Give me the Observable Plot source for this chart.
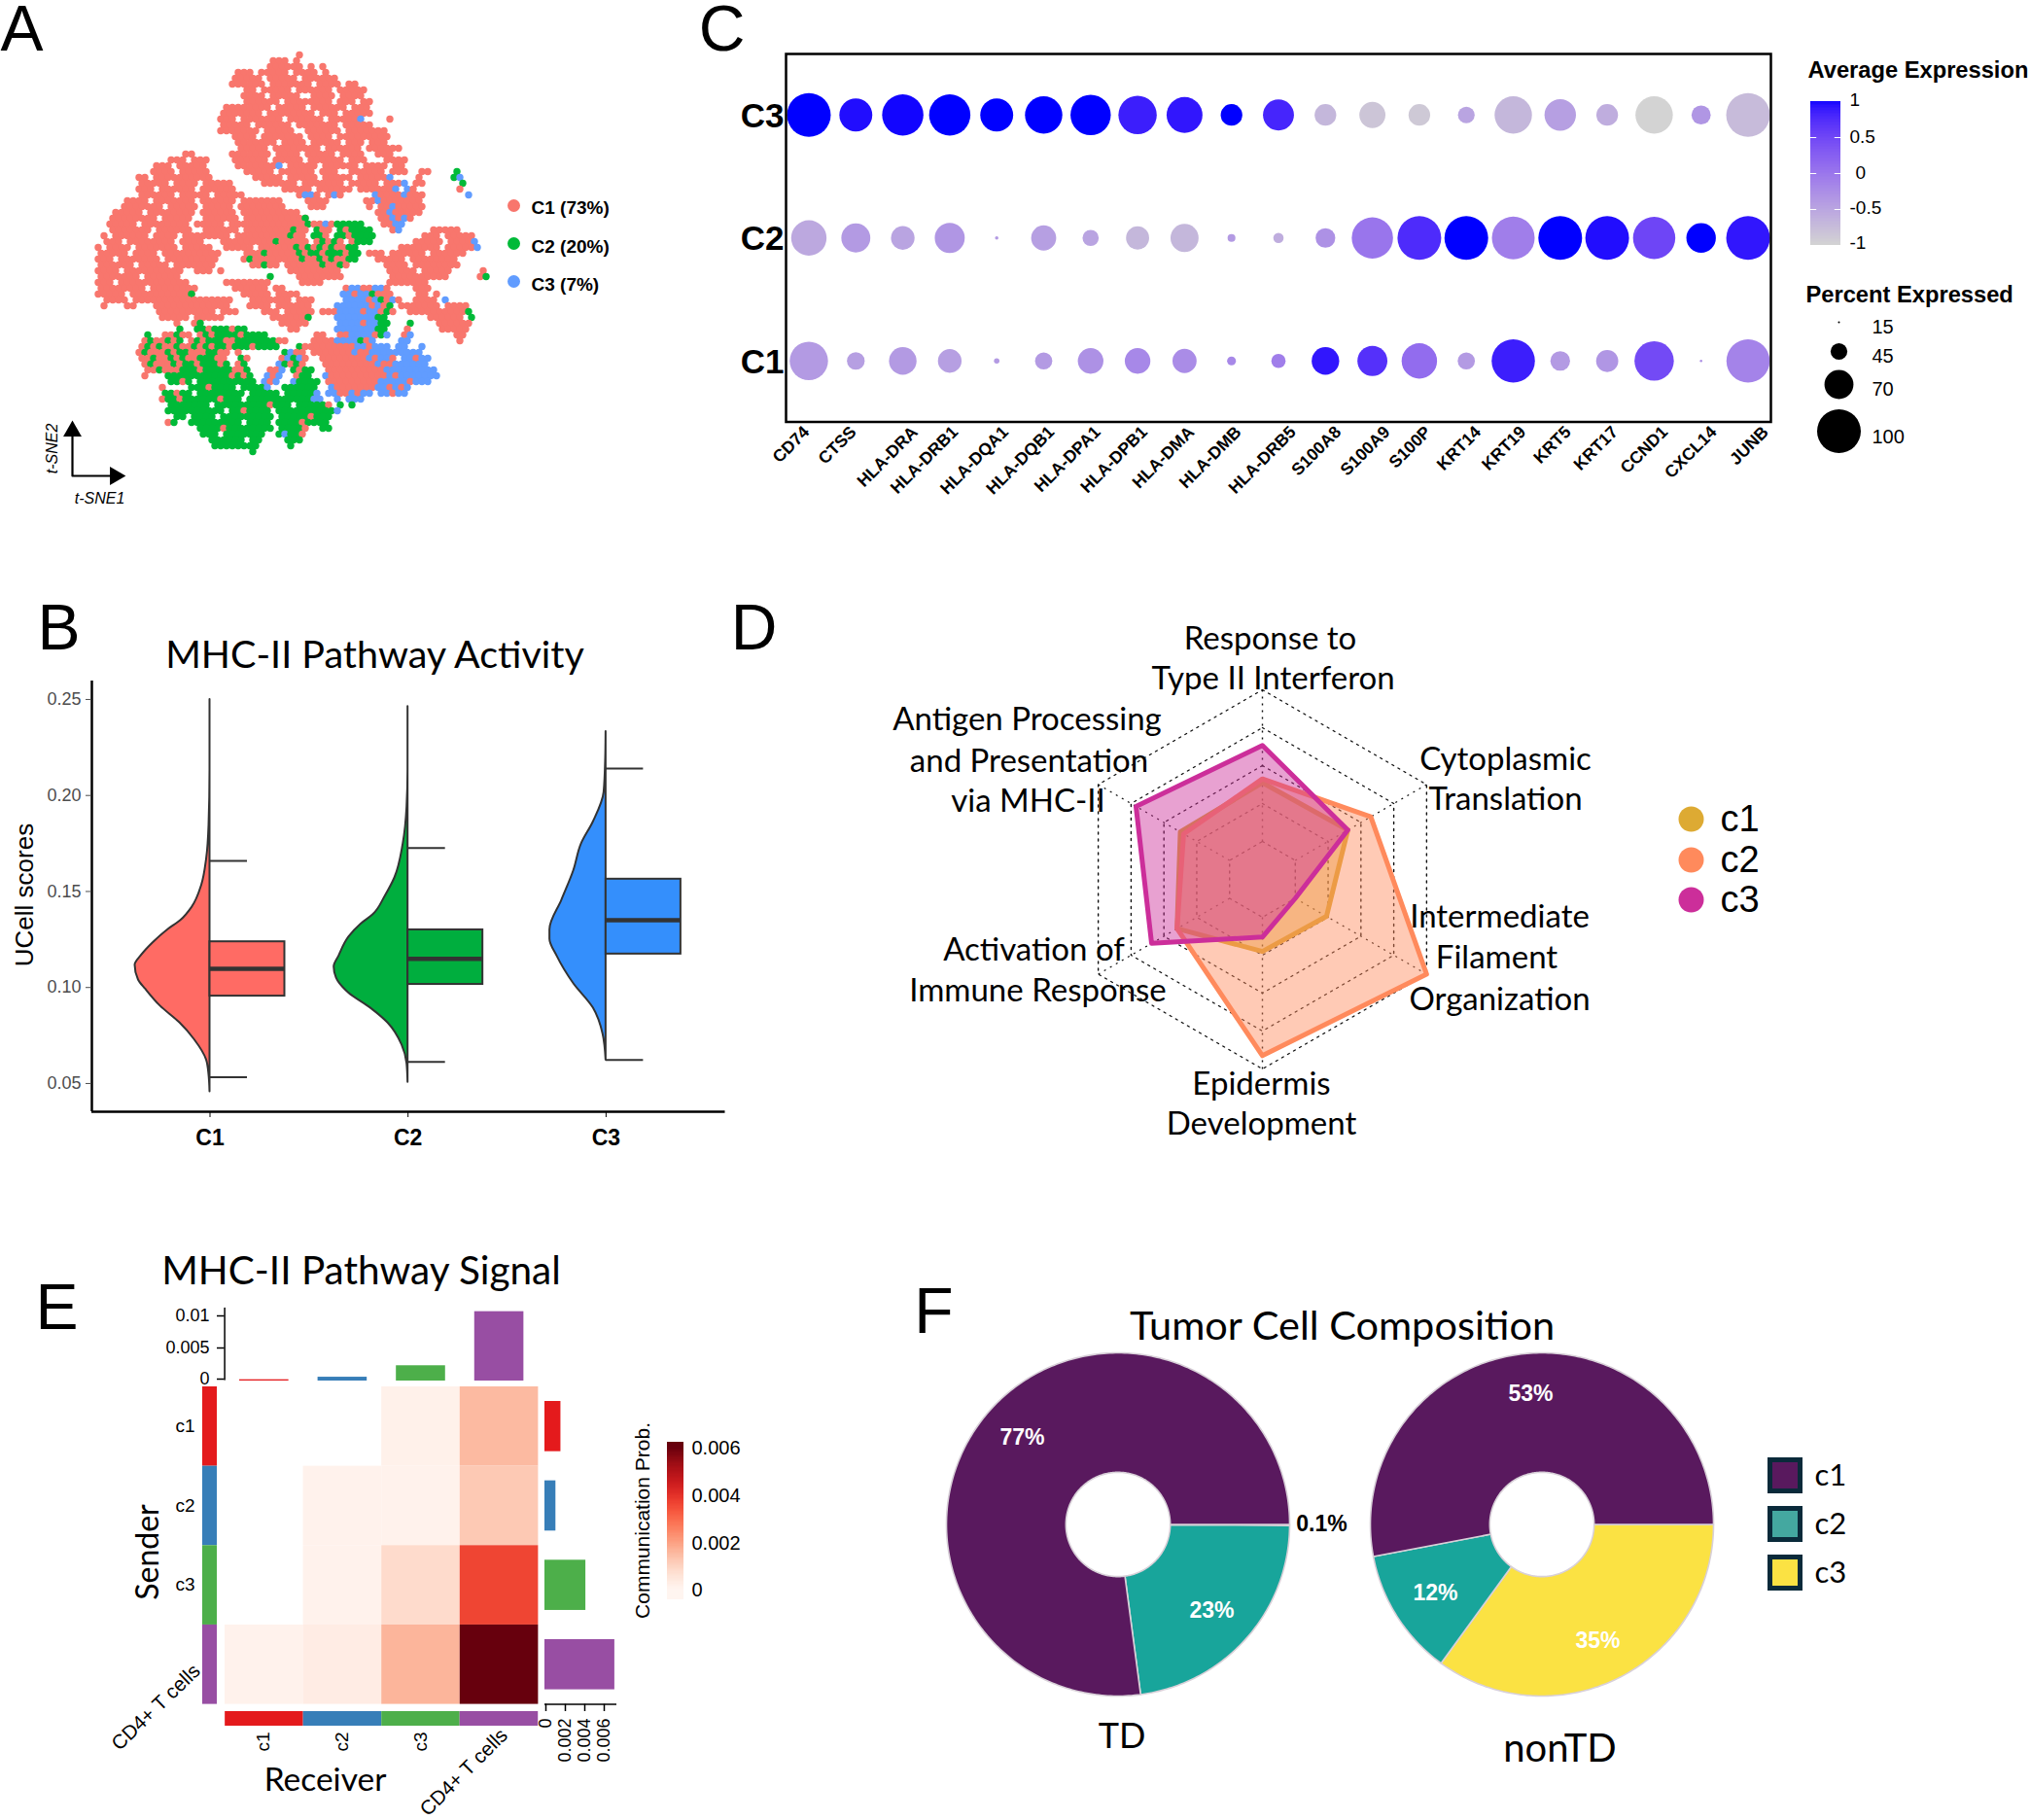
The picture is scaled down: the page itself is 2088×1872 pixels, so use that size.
<!DOCTYPE html>
<html><head><meta charset="utf-8">
<style>html,body{margin:0;padding:0;background:#fff}#page{position:relative;width:2088px;height:1872px;overflow:hidden}svg{max-width:none!important}</style>
<script src="https://cdn.jsdelivr.net/npm/d3@7"></script>
<script src="https://cdn.jsdelivr.net/npm/@observablehq/plot@0.6"></script>
</head><body><div id="page"></div>
<script>
// ---------- DATA ----------
// Panel A: t-SNE cloud. Each row: "column:cluster letters"; r=C1 g=C2 b=C3, "." = gap
const tsneRows = [
"","36:r","32:rrr.r","31:rrrrrr 38:r 40:r","26:rrr.rrrrr.rrrr 41:r","25:rrrrr.rrrrr.rrrrrr","25:rrrrrr.rrrrrrr.rrrr 45:rr",
"27:rr.rrrrr.rrrrrr.rrrrr","27:rrrr.rrrrr..rrrr.rrrr","27:rrrrrr.rrrrrrrr.rrr.rr","24:rrrrrrrr.rrrrr.rrrrrr.rrr",
"23:rrrrrrr.rrrrrrrr.rrr.rrrrr","23:rrr.rrrrrrr.rrrrrr.rrrrrb 52:r","23:rrrrr.rrrrrr.rrrrrrr.rrrrr","23:rrrrrrr.rrrrr..rrrrrr.rrrrrrr",
"25:rrrr.rrrrrrr.rrrr.rrrrrrrrr","26:rrrrrrr.rrrr.rrrrr.rrr.rrr","26:rrrrr.rrrrrrrr.rrrrrr.rrrrrr","17:rr 25:rrrrrrr.rrrr.rrrrr.rrrr..rrr",
"14:rrr 18:rrr 25:rrrrrr.rrrrr.rrrrrr.rrr...rrrr","12:rrr.rrrrr 26:rrrrrrrb.rrrrr.rrrrrr.rrrr.rr","11:rrrr.rrrrr 27:rrrrr.rrrrrr.rrr..rrrrrr.rrr 57:rr 63:g",
"9:rr.rrrrrrrrrr 29:rrrrr.rrrrr.rrrrr.rrrrrb 57:r 63:gb","9:rrrrr.rrrr.rrrrr 30:rrrrrr.rrrrrrr.rrrrr.rrrb 56:rr 64:g","9:rrr.rrrrrr.rrrrrr 34:rrrrr.rrrrrr.rrrrrrb 55:br 64:r",
"9:rrrrrr.rrrrr.rrrrr 36:rbbr 41:rbr 49:brrrrbrrr 65:b","7:rrrr.rrrrrrr.rrrrrr.rrrrrrr 38:rrrr 48:rrbrrrrrrr","6:rrrrrrr.rrrrr.rrrrr.rrrrrrrr 38:rrr 48:r.rrbrrrrr",
"5:rrrrr.rrrrrrrr.rrrrrr.rrrrrrrrrr 50:rrbrrrrr","4:rrrrrrrr.rrrrr..rrrrrr.rrrrrrrrrrr 37:g 50:rrbrbr","4:rrrrr.rrrrrrrr.rrrrr.rrrrrrrrrrrrrg 39:rrbrggggg 51:rrbb",
"4:rrrrrrr.rrrrrr..rrrrrr.rrrrrrrrgrr 39:grr.grgggg 52:rb 59:rrrrr","3:r.rrrrrr.rrrr.rrrrrrrr.rrrrrrrrrgrr 39:ggr.ggrgggg 58:rrr.rrrrr","3:rrr.rrrrrrrr.rrrr...rrrrrrrrrgrrrrr 39:rgrgr.rggg 56:rrrrr.rrrrb",
"2:r.rrrr.rrrrrrr.rrrrr..rrrrr.rrrrrrgrg 39:rgrgrrgg 54:rrrrrrr.rrrrrb","2:rrrrr.rrrr.rrrrrrr 19:rrrr 27:rrrgrrrr 35:rgrggrgggrgg 48:rrr 52:rrrrrr.rrrrrr",
"2:rrr.rrrrrrr.rrrrr 18:rrrrr 27:rgrrrrrr 35:rrgrrgrgrrgg 50:rrrrr.rrrrrrrr","2:rrrrrr.rrrrr.rrrr 18:rrrr 28:rrgrr 34:rrrrrrgrrgr 51:rrrr.rrrrrrrr","2:rrrr.rrrrrrrrrr 19:rrr 23:r 35:rrrrrrrrr 52:rrrrr.rrrrr 68:r",
"2:rrrrrrr.rrrrrr 31:g 36:rrrrrrrr 52:rrrrrrrrrr 67:rg","2:rrr.rrrrrrrrrrrr 24:rrrrrrrr 37:rrrr 52:rrrrrrr","2:rrrrrrrr.rrrrrrrr 25:rrrrrr.rr 44:rbbrrbbr 56:rrr",
"2:rrrrr.rrrrrrrrrrr 18:g 27:rrrrr.rrrr 44:bbrbbgrrr 57:rr 60:r","3:rrrr.rrrrrrrrrrr 19:rrrrrr 28:rrrrrrr.rrr 44:bbbbrbgrb 53:r 56:rrrr 61:b","3:r 7:rr 12:rrrrrrr 19:rrrrrr 28:rrrr.rrrrrr 43:bbbbbbrbrg 54:rrrrrrr.rrrr",
"12:rrrrrrrrrr.rrr 30:rrr.rrrrr 40:rr 42:rbbbbrbbrgr 55:rrrr 59:rrrrrrg","13:rrrr 17:r 19:rrrrr 32:rrrrrrg 43:bbbbbbbgg. 59:rrrrrr.g","15:r 18:r 19:g 33:rrrrr 43:bbbbrbbgg 55:g 60:rrrrrr",
"16:g 19:ggrgggrgg 35:rr 43:bbbbbbbgg 55:r 61:rrrrr","10:g 13:rrgrr 19:rgrggggrgggg 39:rr 43:rrbbbbrgb 54:rb 63:rr","10:rgrrgrg 18:rgrgggrrggggggg 33:r 34:r 39:rrrrbbbbgrb 54:bb 64:r",
"9:rgrgrrgrrgrgrggrgggrgggg 36:grrrrrrrrrbbrbbb 53:bb 57:b","9:rgrrrgrggrrrggrr 26:r 34:gbrr 39:rrrrrrrbrrbbbbb 54:bbbb","9:rrgrrgrgrrgggrr 26:gr 33:rbgbr 40:rrrrrrrrbrbbr 54:bbrbb",
"10:rgrrrgr 16:rggrgggrg 26:rg 33:bgrgr 41:rrrrrrrrrbrr 53:bbbbbb","10:rrg 13:rrrgggrgggggrrg 31:rrb 35:grgg 41:rrrrrrrrrrbr 52:bbbbbbbb","10:r 14:gggggggggggrgrg 31:brb 36:rgg 41:brrrrrrrrrrbrbbbbbbb",
"14:ggrg 19:gggggggggg 30:brb 35:bgggg 41:rrrrrrrrr 50:bbbbbrbbb","13:r 18:g 19:ggrgggg.gggg 31:b 34:gggggg 42:brrrrrrr 50:bbrbrb","13:ggrgg 19:gggggggg.ggggg 34:gggggb 41:bbr 44:rbrbb 50:bbrbb",
"13:rggrg 18:g 19:ggggrggg.ggggg 33:ggggggbb 43:b 45:bbb","14:ggggg 19:gg.gggggggggrg 33:gg.gggggr 43:g 45:g","14:gggg 18:gggggg.ggrgggg 33:ggggggggggb",
"15:gg 18:gggg.ggggggggg 33:gggggrggg","14:rg 18:ggggggggg.gggg 33:ggggrgggg","19:ggggrgggggggg 33:ggggr 40:gg","20:ggg.ggggggg 33:gbggr","21:gggggg.gg 34:ggg","22:gggggggg 35:g","28:g"];
const tsneClusters = {r:"C1", g:"C2", b:"C3"};
const tsneColors = ["#F8766D","#00BA38","#619CFF"];

// Panel B
const clusterNames = ["C1","C2","C3"];
const clusterColors = ["#FF6B64","#00AE3E","#348FFC"];
const violinC1 = [[.25,0],[.2134,0],[.1843,.013],[.1669,.045],[.1533,.11],[.1417,.24],[.1349,.39],[.13,.565],[.1233,.76],[.1165,.92],[.1116,1],[.1039,.955],[.099,.857],[.0903,.662],[.0816,.403],[.0729,.208],[.0622,.045],[.0545,.013],[.0457,0]];
const violinC2 = [[.2463,0],[.2134,0],[.194,.013],[.1746,.065],[.1572,.175],[.1475,.305],[.1378,.468],[.1329,.63],[.1262,.79],[.1165,.92],[.1107,.987],[.1048,.955],[.0971,.79],[.0893,.5],[.0816,.27],[.07,.08],[.0603,.013],[.0506,0]];
const violinC3 = [[.2333,0],[.2192,.005],[.2017,.026],[.1862,.17],[.1746,.33],[.161,.43],[.1455,.59],[.13,.75],[.1252,.75],[.1165,.656],[.1019,.43],[.0893,.17],[.0757,.04],[.0622,0]];
const boxLow = [.0533,.0612,.0622];
const boxQ1 = [.0955,.1016,.1174];
const boxMedian = [.1097,.1149,.1351];
const boxQ3 = [.1238,.13,.1564];
const boxHigh = [.1659,.1727,.214];

// Panel C
const genes = ["CD74","CTSS","HLA-DRA","HLA-DRB1","HLA-DQA1","HLA-DQB1","HLA-DPA1","HLA-DPB1","HLA-DMA","HLA-DMB","HLA-DRB5","S100A8","S100A9","S100P","KRT14","KRT19","KRT5","KRT17","CCND1","CXCL14","JUNB"];
const pctC3 = [100,78,95,95,78,87,93,89,84,55,74,55,64,55,45,87,75,55,87,50,100];
const pctC2 = [83,70,59,72,18,62,44,58,68,27,32,51,95,100,100,98,100,100,97,71,100];
const pctC1 = [89,47,67,59,22,46,63,63,60,29,40,67,72,83,46,99,51,56,91,16,99];
const avgC3 = [1,.95,.98,1,1,1,1,.85,.9,1,.8,-.7,-.85,-.9,-.5,-.7,-.45,-.6,-1,-.35,-.75];
const avgC2 = [-.55,-.4,-.5,-.35,-.4,-.45,-.5,-.7,-.7,-.4,-.6,-.3,0,.75,1,-.1,1,.95,.5,1,.9];
const avgC1 = [-.4,-.45,-.4,-.45,-.4,-.4,-.3,-.2,-.25,-.2,-.1,.9,.7,.1,-.4,.85,-.4,-.35,.45,-.3,-.15];
const avgTicks = [-1,-.5,0,.5,1];

// Panel D
const radarSeries = ["c1","c2","c3"];
const radarColors = ["#DDAA33","#FF8A5C","#CC2E9A"];
const radarC1 = [.51,.52,.39,.38,.52,.50];
const radarC2 = [.53,.66,1,.93,.52,.48];
const radarC3 = [.706,.52,.2,.304,.675,.77];
const radarLevels = [.2,.4,.6,.8,1];

// Panel E
const cellGroups = ["c1","c2","c3","CD4+ T cells"];
const cellColors = ["#E41A1C","#377EB8","#4DAF4A","#984EA3"];
const heatC1 = [0,0,.00015,.0015];
const heatC2 = [0,.0001,.0001,.0012];
const heatC3 = [0,.0001,.0008,.0036];
const heatCD4 = [.0001,.0003,.0016,.006];
const receiverTotals = [.0002,.0006,.0024,.0109];
const senderTotals = [.0016,.0011,.0041,.007];

// Panel F
const sliceOrder = ["c3","c2","c1"];
const sliceColors = ["#FBE243","#18A59B","#59195E"];
const shareTD = [.1,22.8,77.1];
const shareNonTD = [35,12,53];

// ---------- HELPERS ----------
const page = document.getElementById("page");
const arial = "Liberation Sans";
const soft = "Lato";
function mount(options, left, top) {
  const svg = Plot.plot({margin:0, style:{background:"none", overflow:"visible"}, ...options});
  svg.style.position = "absolute"; svg.style.left = left+"px"; svg.style.top = top+"px";
  page.append(svg);
}
const rScale = {type:"linear", domain:[11,100], range:[0,22.5]};
const dotColor = {type:"linear", domain:[-1,1], range:["lightgrey","blue"], interpolate:"lab"};

// ---------- A ----------
const tsne = [];
tsneRows.forEach((row,r) => row.split(" ").filter(Boolean).forEach(seg => {
  const [col,letters] = seg.split(":");
  [...letters].forEach((ch,i) => { if (ch!==".") tsne.push({x:+col+i+(r%2?.25:-.25), y:r, cluster:tsneClusters[ch]}); });
}));
mount({width:460,height:460,marginLeft:20,marginRight:20,marginTop:20,marginBottom:20,
  x:{domain:[0,70],axis:null}, y:{domain:[0,70],reverse:true,axis:null},
  color:{domain:clusterNames,range:tsneColors},
  marks:[Plot.dot(tsne,{x:"x",y:"y",fill:"cluster",r:3.7})]}, 70, 30);

// ---------- B ----------
const violins = [violinC1,violinC2,violinC3].flatMap((v,i)=>v.map(([value,w])=>({group:clusterNames[i],pos:i+1,value,w})));
const violinWidth=.378;
const boxes = clusterNames.map((group,i)=>({group,pos:i+1,low:boxLow[i],q1:boxQ1[i],median:boxMedian[i],q3:boxQ3[i],high:boxHigh[i]}));
const xMin=.4035, xMax=3.602, yMin=.0353, yMax=.2596;
mount({width:731.5,height:493,marginLeft:80,marginBottom:50,
  x:{domain:[xMin,xMax]}, y:{domain:[yMin,yMax]},
  color:{domain:clusterNames,range:clusterColors},
  marks:[
    Plot.areaX(violins,{y:"value",x1:"pos",x2:d=>d.pos-d.w*violinWidth,z:"group",fill:"group",stroke:"#333",strokeWidth:2,curve:"monotone-y"}),
    Plot.ruleY(boxes,{y:"low",x1:"pos",x2:d=>d.pos+violinWidth/2,stroke:"#333",strokeWidth:2}),
    Plot.ruleY(boxes,{y:"high",x1:"pos",x2:d=>d.pos+violinWidth/2,stroke:"#333",strokeWidth:2}),
    Plot.rect(boxes,{x1:"pos",x2:d=>d.pos+violinWidth,y1:"q1",y2:"q3",fill:"group",stroke:"#333",strokeWidth:2}),
    Plot.ruleY(boxes,{y:"median",x1:"pos",x2:d=>d.pos+violinWidth,stroke:"#333",strokeWidth:4.5}),
    Plot.ruleX([xMin],{stroke:"black",strokeWidth:2.5}),
    Plot.ruleY([yMin],{stroke:"black",strokeWidth:2.5}),
    Plot.axisY({ticks:[.05,.1,.15,.2,.25],tickFormat:".2f",tickSize:6,tickPadding:5,fontSize:18,fontFamily:arial,color:"#4d4d4d",label:null}),
    Plot.axisX({ticks:[1,2,3],tickFormat:i=>clusterNames[i-1],tickSize:6,tickPadding:12,fontSize:23,fontWeight:"bold",fontFamily:arial,label:null})
  ]}, 13.5, 700);

// ---------- C ----------
const dots = [["C3",pctC3,avgC3],["C2",pctC2,avgC2],["C1",pctC1,avgC1]].flatMap(([row,p,a])=>genes.map((gene,i)=>({row,gene,pct:p[i],avg:a[i]})));
// where each gene label's end sits, relative to its column
const geneLabelShift = [3.5,3.5,18.5,11.5,15,14,13,13,13,13,21,19,21,15,18,16,14,14,17,19,24];
mount({width:1073,height:488.5,marginLeft:60,marginBottom:110,
  x:{type:"point",domain:genes,padding:.486,round:false,axis:null}, y:{type:"point",domain:["C3","C2","C1"],padding:.496,round:false},
  r:rScale, color:dotColor,
  marks:[
    Plot.dot(dots,{x:"gene",y:"row",r:"pct",fill:"avg"}),
    Plot.frame({stroke:"black",strokeWidth:2.5}),
    Plot.axisY({tickSize:0,tickPadding:2,fontSize:35,fontWeight:"bold",fontFamily:arial,label:null,dy:1.5})
  ]}, 748, 54.5);
// Colour bar of C
mount({width:31,height:148,x:{domain:[0,1],axis:null},y:{domain:[-1,1],axis:null},color:dotColor,
  marks:[
    Plot.rect(d3.range(-1,1,.02),{y1:d=>d,y2:d=>Math.min(1,d+.04),fill:d=>d,shapeRendering:"crispEdges"}),
    Plot.ruleY(avgTicks.slice(1,4),{x1:0,x2:.2,stroke:"white"}),
    Plot.ruleY(avgTicks.slice(1,4),{x1:.8,x2:1,stroke:"white"})
  ]},1862,104);

// ---------- D ----------
const angle = i => i*Math.PI/3;
const radarAt = (s,vals)=>vals.map((v,i)=>({s,x:v*Math.sin(angle(i)),y:v*Math.cos(angle(i))}));
const radarPolys = [radarC1,radarC2,radarC3].flatMap((v,i)=>radarAt(radarSeries[i],v));
const ringPts = radarLevels.flatMap(l=>radarAt(l,Array(6).fill(l)));
const innerPts = radarAt(0,Array(6).fill(radarLevels[0])), outerPts = radarAt(0,Array(6).fill(1));
const spokes = innerPts.map((a,i)=>({a,b:outerPts[i]}));
mount({width:468,height:468,x:{domain:[-1.2,1.2],axis:null},y:{domain:[-1.2,1.2],axis:null},
  color:{domain:radarSeries,range:radarColors},
  marks:[
    Plot.line(ringPts,{x:"x",y:"y",z:"s",curve:"linear-closed",stroke:"#111",strokeWidth:1.4,strokeDasharray:"2,5"}),
    Plot.link(spokes,{x1:d=>d.a.x,y1:d=>d.a.y,x2:d=>d.b.x,y2:d=>d.b.y,stroke:"#111",strokeWidth:1.4,strokeDasharray:"2,5"}),
    Plot.line(radarPolys,{x:"x",y:"y",z:"s",fill:"s",stroke:"s",fillOpacity:.45,strokeWidth:5,curve:"linear-closed"})
  ]},1064,670);

// ---------- E ----------
const heat = [heatC1,heatC2,heatC3,heatCD4].flatMap((row,i)=>row.map((value,j)=>({sender:cellGroups[i],receiver:cellGroups[j],value}))).filter(d=>d.value>0);
const heatColor = {type:"linear",scheme:"reds",domain:[0,.006]};
const groupColor = {domain:cellGroups,range:cellColors};
const bandX = {type:"band",domain:cellGroups,padding:0,round:false,axis:null};
mount({width:322.4,height:326.6,x:bandX,y:{...bandX},color:heatColor,
  marks:[Plot.cell(heat,{x:"receiver",y:"sender",fill:"value",inset:0})]},230.6,1426);
const receivers = cellGroups.map((g,i)=>({g,v:receiverTotals[i]}));
const senders = cellGroups.map((g,i)=>({g,v:senderTotals[i]}));
// top bars
mount({width:322.4,height:75,marginTop:3,x:bandX,y:{domain:[0,.011],axis:null},color:groupColor,
  marks:[Plot.barY(receivers,{x:"g",y:"v",fill:"g",insetLeft:15,insetRight:15})]},230.6,1345);
// right bars
mount({width:76,height:326.6,y:{...bandX},x:{domain:[0,.0074],axis:null},color:groupColor,
  marks:[Plot.barX(senders,{y:"g",x:"v",fill:"g",insetTop:15,insetBottom:15})]},559.7,1426);
// strips
mount({width:15,height:326.6,y:{...bandX},color:groupColor,marks:[Plot.cell(cellGroups,{y:d=>d,fill:d=>d,inset:0})]},208,1426);
mount({width:322.4,height:15,x:bandX,color:groupColor,marks:[Plot.cell(cellGroups,{x:d=>d,fill:d=>d,inset:0})]},230.6,1759.6);
// heat legend
mount({width:17,height:161.5,x:{domain:[0,1],axis:null},y:{domain:[-.00037,.00625],axis:null},color:heatColor,
  marks:[Plot.rect(d3.range(-.00037,.00625,.00005),{y1:d=>d,y2:d=>Math.min(.00625,d+.0001),fill:d=>Math.max(0,d),shapeRendering:"crispEdges"})]},686,1483);

// ---------- F ----------
const donutR = 176.5, holeFrac = .304;
function donut(shares){
  const total = d3.sum(shares); let start = 0; const out=[];
  shares.forEach((s,k)=>{
    const end = start+s/total*360;
    const steps = Math.max(2,Math.ceil(end-start));
    const a = d3.range(steps+1).map(i=>(90+start+(end-start)*i/steps)*Math.PI/180);
    a.forEach(t=>out.push({slice:sliceOrder[k],x:Math.sin(t),y:Math.cos(t)}));
    a.slice().reverse().forEach(t=>out.push({slice:sliceOrder[k],x:holeFrac*Math.sin(t),y:holeFrac*Math.cos(t)}));
    start=end;
  });
  return out;
}
[[shareTD,1149],[shareNonTD,1585.5]].forEach(([shares,cx])=>{
  mount({width:donutR*2+8,height:donutR*2+8,x:{domain:[-1-4/donutR,1+4/donutR],axis:null},y:{domain:[-1-4/donutR,1+4/donutR],axis:null},
    color:{domain:sliceOrder,range:sliceColors},
    marks:[Plot.line(donut(shares),{x:"x",y:"y",z:"slice",fill:"slice",stroke:"#D8D0D8",strokeWidth:1.6,curve:"linear-closed"})]},cx-donutR-4,1567-donutR-4);
});

// ---------- Annotation layer (panel letters, titles, legends) ----------
const T = (items,o)=>Plot.text(items,{x:"x",y:"y",text:"t",rotate:d=>d.rot||0,lineAnchor:"middle",textAnchor:"middle",fill:"black",...o});
const at=(t,x,y,rot)=>({t,x,y,rot});
const pctRows = [[15,331,336],[45,361,366],[70,395,400],[100,443,449]];
mount({width:2088,height:1872,x:{domain:[0,2088],axis:null},y:{domain:[0,1872],range:[0,1872],axis:null},
  r:rScale,
  marks:[
    // panel letters
    T([at("A",22,30),at("C",742,30),at("B",60,646),at("D",775,646),at("E",58,1345),at("F",960,1349)],{fontSize:66,fontFamily:arial}),
    // titles
    T([at("MHC-II Pathway Activity",385,674)],{fontSize:39.5,fontFamily:soft}),
    T([at("MHC-II Pathway Signal",371,1308)],{fontSize:40.5,fontFamily:soft}),
    T([at("Tumor Cell Composition",1380,1364)],{fontSize:41.5,fontFamily:soft}),
    // A legend + arrows
    Plot.dot(clusterNames,{x:()=>528,y:(d,i)=>[211,250,289][i],r:6.5,fill:(d,i)=>tsneColors[i]}),
    T([at("C1 (73%)",546,213),at("C2 (20%)",546,253),at("C3 (7%)",546,292)],{textAnchor:"start",fontSize:19,fontWeight:"bold",fontFamily:arial}),
    Plot.line([{x:74,y:445},{x:74,y:489},{x:116,y:489}],{x:"x",y:"y",stroke:"black",strokeWidth:2.2}),
    Plot.dot([{x:74,y:443}],{x:"x",y:"y",symbol:"triangle",r:7,fill:"black",rotate:0}),
    Plot.dot([{x:118,y:489}],{x:"x",y:"y",symbol:"triangle",r:7,fill:"black",rotate:90}),
    T([at("t-SNE1",102,512),at("t-SNE2",53,461,-90)],{fontSize:16,fontStyle:"italic",fontFamily:arial}),
    // B
    T([at("UCell scores",25,920,-90)],{fontSize:26,fontFamily:arial}),
    // C gene labels
    T(genes.map((g,i)=>at(g,831.5+i*48.3+geneLabelShift[i]-6,441,-45)),{textAnchor:"end",fontSize:17.5,fontWeight:"bold",fontFamily:arial}),
    // C legends
    T([at("Average Expression",1859,72),at("Percent Expressed",1857,303)],{textAnchor:"start",fontSize:23.7,fontWeight:"bold",fontFamily:arial}),
    T([at("1",1902,102),at("0.5",1902,140),at("0",1908,177),at("-0.5",1902,213),at("-1",1902,249)],{textAnchor:"start",fontSize:19,fontFamily:arial}),
    Plot.dot(pctRows,{x:()=>1891,y:d=>d[1],r:d=>d[0],fill:"black"}),
    T(pctRows.map(d=>at(String(d[0]),1925,d[2])),{textAnchor:"start",fontSize:20,fontFamily:arial}),
    // D labels
    T([at("Response to",1306,657),at("Type II Interferon",1309,698),at("Antigen Processing",1056,740),at("and Presentation",1058,783),at("via MHC-II",1057,824),
       at("Cytoplasmic",1548,781),at("Translation",1548,822),at("Intermediate",1542,943),at("Filament",1539,985),at("Organization",1542,1028),
       at("Epidermis",1297,1115),at("Development",1297,1156),at("Activation of",1063,977),at("Immune Response",1067,1019)],{fontSize:33,fontFamily:soft}),
    Plot.dot(radarSeries,{x:()=>1739,y:(d,i)=>[842,884,925][i],r:13,fill:(d,i)=>radarColors[i]}),
    T([at("c1",1769,842),at("c2",1769,884),at("c3",1769,925)],{textAnchor:"start",fontSize:38,fontFamily:arial}),
    // E labels
    T([at("0.01",215,1353),at("0.005",215,1386),at("0",215,1418)],{textAnchor:"end",fontSize:18,fontFamily:arial}),
    Plot.line([{x:230.6,y:1345},{x:230.6,y:1418.5}],{x:"x",y:"y",stroke:"black",strokeWidth:1.5}),
    Plot.ruleY([1353,1386,1418],{x1:223,x2:230.6,stroke:"black",strokeWidth:1.5}),
    T([at("c1",200,1466),at("c2",200,1548),at("c3",200,1629)],{textAnchor:"end",fontSize:19,fontFamily:arial}),
    T([at("CD4+ T cells",202,1715,-44),at("CD4+ T cells",518,1781,-45)],{textAnchor:"end",fontSize:20.5,fontFamily:arial}),
    T([at("c1",270,1791,-90),at("c2",351,1791,-90),at("c3",432,1791,-90)],{fontSize:19,fontFamily:arial}),
    T([at("Sender",152.5,1596,-90)],{fontSize:32,fontFamily:soft}),
    T([at("Receiver",334,1831)],{fontSize:33.5,fontFamily:soft}),
    Plot.ruleY([1752.6],{x1:560,x2:634,stroke:"black",strokeWidth:1.5}),
    Plot.ruleX([561,581,601,621],{y1:1752.6,y2:1760,stroke:"black",strokeWidth:1.5}),
    T([at("0",561,1767,-90),at("0.002",581,1767,-90),at("0.004",601,1767,-90),at("0.006",621,1767,-90)],{textAnchor:"end",fontSize:18,fontFamily:arial}),
    T([at("0.006",711,1489),at("0.004",711,1538),at("0.002",711,1587),at("0",711,1635.5)],{textAnchor:"start",fontSize:20,fontFamily:arial}),
    T([at("Communication Prob.",661,1563.5,-90)],{fontSize:21,fontFamily:arial}),
    // F labels
    T([at("77%",1051,1478),at("23%",1246,1656),at("53%",1574,1433),at("12%",1476,1638.5),at("35%",1643,1687)],{fill:"white",fontSize:23,fontWeight:"bold",fontFamily:arial}),
    T([at("0.1%",1359,1567.6)],{fontSize:23,fontWeight:"bold",fontFamily:arial}),
    T([at("TD",1153.6,1786)],{fontSize:36,fontFamily:soft}),
    T([at("nonTD",1604,1799)],{fontSize:40,fontFamily:soft}),
    Plot.rect([0,1,2],{x1:()=>1820.5,x2:()=>1851.5,y1:(d,i)=>[1501.5,1551.5,1601.5][i],y2:(d,i)=>[1533.5,1583.5,1633.5][i],fill:(d,i)=>["#59195E","#44A8A0","#FBE243"][i],stroke:"#0A2A3A",strokeWidth:5}),
    T([at("c1",1866,1518),at("c2",1866,1568),at("c3",1866,1617.5)],{textAnchor:"start",fontSize:31,fontFamily:soft})
  ]},0,0);
</script></body></html>
